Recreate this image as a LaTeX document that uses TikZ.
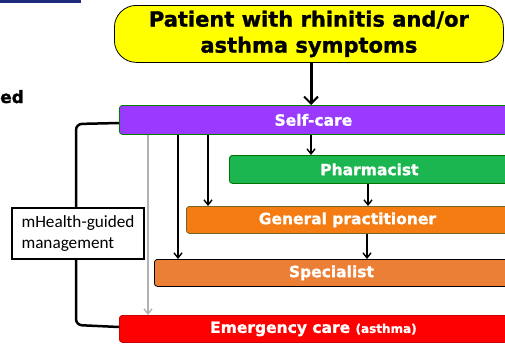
\documentclass[tikz,border=0pt]{standalone}
\usepackage{fontspec}
\setmainfont{DejaVu Sans}[BoldFeatures={FakeBold=1.2}]
\newfontfamily\carlitofont{Carlito}
\usetikzlibrary{arrows.meta}
\definecolor{cpurple}{HTML}{9A3AFF}
\definecolor{cgreen}{HTML}{1BB64F}
\definecolor{cgp}{HTML}{F57C12}
\definecolor{cspec}{HTML}{EC7F36}
\definecolor{cred}{HTML}{FF0000}
\definecolor{cyellow}{HTML}{FFFF00}
\definecolor{cblue}{HTML}{1F2A7A}
\tikzset{
  bar/.style={draw, rounded corners=3pt, anchor=north west, inner sep=0pt, text=white,
    font=\bfseries\fontsize{15.5}{18}\selectfont, line width=0.8pt},
  arr/.style={-{Straight Barb[length=5pt,width=8pt,line width=1.4pt]}, line width=1.7pt},
}
\begin{document}
\begin{tikzpicture}[x=1pt,y=-1pt]
\useasboundingbox (0,0) rectangle (505,343);
\clip (0,0) rectangle (505,343);
% cut-off remnants
\fill[cblue] (0,0) rectangle (81,2.5);
\node[anchor=base west, inner sep=0pt, font=\bfseries\fontsize{17}{20}\selectfont] (ed) at (0,103) {ed};
% top box
\node[draw, fill=cyellow, rounded corners=22pt, anchor=north west, minimum width=389pt, minimum height=57pt,
  inner sep=0pt, align=center, line width=0.8pt, font=\bfseries\fontsize{21}{26}\selectfont] (pat) at (114,5)
  {Patient with rhinitis and/or\\asthma symptoms};
% bars
\node[bar, fill=cpurple, draw=green!50!black, minimum width=388pt, minimum height=29pt] (self) at (119,105) {Self-care};
\node[bar, fill=cgreen, draw=green!45!black, minimum width=280pt, minimum height=28pt] (pharm) at (229,155) {Pharmacist};
\node[bar, fill=cgp, draw=olive!70!black, minimum width=322pt, minimum height=27pt] (gp) at (186,206) {General practitioner};
\node[bar, fill=cspec, draw=black, minimum width=354pt, minimum height=27pt] (spec) at (154,259) {Specialist};
\node[bar, fill=cred, draw=red!80!black, minimum width=388pt, minimum height=27pt] (emerg) at (119,315)
  {Emergency care {\fontsize{12}{14}\selectfont(asthma)}};
% main arrow
\draw[-{Straight Barb[length=7pt,width=14pt,line width=2pt]}, line width=3pt] (pat.south -| 311,0) -- (self.north -| 311,0);
% arrows from self-care
\draw[arr, draw=black!30] (self.south -| 148,0) -- (emerg.north -| 148,0);
\draw[arr] (self.south -| 178,0) -- (spec.north -| 178,0);
\draw[arr] (self.south -| 208,0) -- (gp.north -| 208,0);
\draw[arr] (self.south -| 311,0) -- (pharm.north -| 311,0);
\draw[arr] (pharm.south -| 368,0) -- (gp.north -| 368,0);
\draw[arr] (gp.south -| 367,0) -- (spec.north -| 367,0);
% bracket
\draw[line width=2.5pt, rounded corners=6pt] (self.west |- 0,123) -- (76,124) -- (76,325) -- (emerg.west |- 0,327);
\node[draw, fill=white, line width=2pt, anchor=north west, minimum width=132pt, minimum height=51pt,
  inner xsep=7pt, inner ysep=0pt, align=left, font=\carlitofont\fontsize{17.2}{21}\selectfont] (mh) at (11,207)
  {mHealth-guided\\management};
\end{tikzpicture}
\end{document}
